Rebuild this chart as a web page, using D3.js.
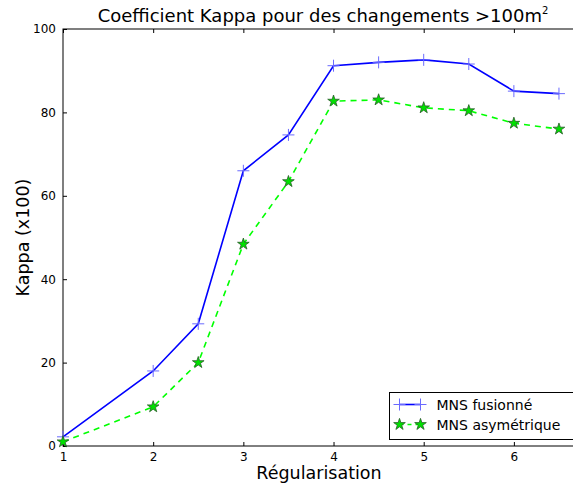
<!DOCTYPE html>
<html lang="en">
<head>
<meta charset="utf-8">
<script src="https://d3js.org/d3.v7.min.js"></script>
<style>
  body { margin: 0; background: #fff; }
  text { font-family: "DejaVu Sans", sans-serif; fill: #000; }
</style>
<title>Kappa</title>
</head>
<body>
<div id="plot-div"></div>
<script>
const width = 573
const height = 489

// data
const regul = [1, 2, 2.5, 3, 3.5, 4, 4.5, 5, 5.5, 6, 6.5]
const fusionne = [2.2, 18, 29.3, 66, 74.6, 91.2, 92, 92.6, 91.6, 85.1, 84.5]
const asymetrique = [1, 9.4, 20, 48.4, 63.4, 82.7, 83, 81.1, 80.4, 77.4, 76]
const xTicks = [1, 2, 3, 4, 5, 6]
const yTicks = [0, 20, 40, 60, 80, 100]

let margin = { top: 29, left: 63, right: -4, bottom: 43 }

let xScale = d3.scaleLinear()
  .domain([1, 6.7])
  .range([margin.left, width - margin.right])

let yScale = d3.scaleLinear()
  .domain([0, 100])
  .range([height - margin.bottom, margin.top])

let svg = d3.select("#plot-div")
  .append("svg")
  .attr("width", width)
  .attr("height", height)

// ticks pointing inward, also on top
let x0 = xScale.range()[0], x1 = xScale.range()[1]
let y0 = yScale.range()[0], y1 = yScale.range()[1]

svg.append("g")
  .attr("transform", `translate(0,${y0})`)
  .call(d3.axisBottom(xScale).tickValues(xTicks).tickFormat(d3.format("d")).tickSizeInner(-4).tickSizeOuter(0).tickPadding(6))
  .call(g => g.select(".domain").remove())
  .call(g => g.selectAll("text").attr("font-size", 12).attr("font-family", "DejaVu Sans"))

svg.append("g")
  .attr("transform", `translate(0,${y1})`)
  .call(d3.axisTop(xScale).tickValues(xTicks).tickSizeInner(-4).tickSizeOuter(0).tickFormat(""))
  .call(g => g.select(".domain").remove())

svg.append("g")
  .attr("transform", `translate(${x0},0)`)
  .call(d3.axisLeft(yScale).tickValues(yTicks).tickSizeInner(-4).tickSizeOuter(0).tickPadding(7))
  .call(g => g.select(".domain").remove())
  .call(g => g.selectAll("text").attr("font-size", 12).attr("font-family", "DejaVu Sans"))

// frame
svg.append("rect")
  .attr("x", x0).attr("y", y1)
  .attr("width", x1 - x0).attr("height", y0 - y1)
  .attr("fill", "none").attr("stroke", "#000").attr("stroke-width", 1)

let line = d3.line()
  .x((d, i) => xScale(regul[i]))
  .y(d => yScale(d))

// series 1
svg.append("path")
  .datum(fusionne)
  .attr("d", line)
  .attr("fill", "none")
  .attr("stroke", "#0000ff")
  .attr("stroke-width", 1.6)

svg.append("g")
  .selectAll("path")
  .data(fusionne)
  .join("path")
  .attr("transform", (d, i) => `translate(${xScale(regul[i])},${yScale(d)})`)
  .attr("d", "M-6,0H6M0,-6V6")
  .attr("stroke", "#6a6aff")
  .attr("stroke-width", 1)

// series 2
svg.append("path")
  .datum(asymetrique)
  .attr("d", line)
  .attr("fill", "none")
  .attr("stroke", "#00ff00")
  .attr("stroke-width", 1.6)
  .attr("stroke-dasharray", "6,5")

let star = d3.symbol().type(d3.symbolStar).size(42)

svg.append("g")
  .selectAll("path")
  .data(asymetrique)
  .join("path")
  .attr("transform", (d, i) => `translate(${xScale(regul[i])},${yScale(d)})`)
  .attr("d", star)
  .attr("fill", "#00e000")
  .attr("stroke", "#2a5a2a")
  .attr("stroke-width", 0.8)

// title
let title = svg.append("text")
  .attr("x", 323)
  .attr("y", 22)
  .attr("text-anchor", "middle")
  .attr("font-size", 18)
title.append("tspan").text("Coefficient Kappa pour des changements >100m")
title.append("tspan").attr("font-size", 10).attr("dy", -8).text("2")

svg.append("text")
  .attr("x", 319)
  .attr("y", 479)
  .attr("text-anchor", "middle")
  .attr("font-size", 17.5)
  .text("Régularisation")

svg.append("text")
  .attr("transform", `translate(29,${(y0 + y1) / 2}) rotate(-90)`)
  .attr("text-anchor", "middle")
  .attr("font-size", 17.5)
  .text("Kappa (x100)")

// legend
let leg = svg.append("g").attr("transform", "translate(389.5,392.5)")
leg.append("rect")
  .attr("width", 185).attr("height", 47)
  .attr("fill", "#fff").attr("stroke", "#000").attr("stroke-width", 1)

leg.append("line")
  .attr("x1", 10).attr("x2", 31).attr("y1", 12).attr("y2", 12)
  .attr("stroke", "#0000ff").attr("stroke-width", 1.6)
leg.selectAll(".pm")
  .data([10, 31])
  .join("path")
  .attr("transform", d => `translate(${d},12)`)
  .attr("d", "M-6,0H6M0,-6V6")
  .attr("stroke", "#6a6aff")
leg.append("text").attr("x", 47).attr("y", 17).attr("font-size", 14).text("MNS fusionné")

leg.append("line")
  .attr("x1", 10).attr("x2", 31).attr("y1", 32).attr("y2", 32)
  .attr("stroke", "#00ff00").attr("stroke-width", 1.6).attr("stroke-dasharray", "4,4")
leg.selectAll(".st")
  .data([10, 31])
  .join("path")
  .attr("transform", d => `translate(${d},32)`)
  .attr("d", star)
  .attr("fill", "#00e000")
  .attr("stroke", "#2a5a2a")
  .attr("stroke-width", 0.8)
leg.append("text").attr("x", 47).attr("y", 37).attr("font-size", 14).text("MNS asymétrique")
</script>
</body>
</html>
